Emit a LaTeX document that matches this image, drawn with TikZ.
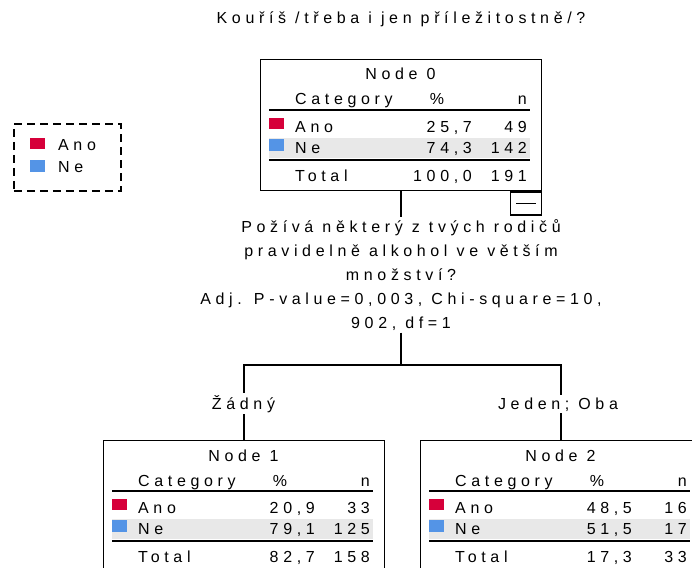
\documentclass[tikz,border=0pt]{standalone}
\usepackage{fontspec}
\newfontfamily\spss[LetterSpace=29]{Liberation Sans}
\definecolor{anored}{RGB}{214,0,58}
\definecolor{neblue}{RGB}{84,148,230}
\definecolor{bandgray}{RGB}{232,232,232}
\tikzset{
  treebox/.style={draw, line width=1.4pt, inner sep=0pt, anchor=north west, minimum width=281pt, minimum height=131pt},
  ltxt/.style={inner sep=0pt, anchor=base west},
  rtxt/.style={inner sep=0pt, anchor=base east},
  ctxt/.style={inner sep=0pt, anchor=base},
  rulel/.style={line width=1.3pt},
  conn/.style={line width=1.5pt},
  lbl/.style={fill=white, inner sep=2pt, anchor=base},
}
\newcommand\tablebody[7]{%
  \node[ctxt] (#1t) at (140.5,21) {Node #2};
  \node[ltxt] (#1c) at (35,46) {Category};
  \node[ctxt] (#1p) at (177,46) {\%};
  \node[rtxt] (#1n) at (267,46) {n};
  \draw[rulel] (9,51) -- (270,51);
  \fill[bandgray] (9,79) rectangle (270,99);
  \fill[anored] (9,59) rectangle (24,70);
  \fill[neblue] (9,80) rectangle (24,92);
  \node[ltxt] (#1a) at (35,73) {Ano};
  \node[rtxt] (#1ap) at (212,73) {#3};
  \node[rtxt] (#1an) at (267,73) {#4};
  \node[ltxt] (#1b) at (35,94) {Ne};
  \node[rtxt] (#1bp) at (212,94) {#5};
  \node[rtxt] (#1bn) at (267,94) {#6};
  \draw[rulel] (9,101) -- (270,101);
  \node[ltxt] (#1s) at (35,122) {Total};
  \node[rtxt] (#1sp) at (212,122) {#7};
}
\begin{document}
\begin{tikzpicture}[x=1pt, y=-1pt, font=\spss\fontsize{16}{18}\selectfont]
\useasboundingbox (0,0) rectangle (692,567);
\clip (0,0) rectangle (692,567);

% title
\node[ctxt] (title) at (401,24) {Kouříš /třeba i jen příležitostně/?};

% legend
\node[draw, line width=1.5pt, dash pattern=on 8pt off 5pt, anchor=north west,
      minimum width=107pt, minimum height=67pt, inner sep=0pt] (legend) at (13,123) {};
\fill[anored] (30,138) rectangle (45,149);
\fill[neblue] (30,160) rectangle (45,172);
\node[ltxt] (legano) at (58,150) {Ano};
\node[ltxt] (legne) at (58,172) {Ne};

% node 0
\node[treebox] (n0) at (260,59) {};
\begin{scope}[shift={(260,59)}]
  \tablebody{n0}{0}{25,7}{49}{74,3}{142}{100,0}
  \node[rtxt] (n0sn) at (267,122) {191};
\end{scope}
\node[draw, line width=1.4pt, inner sep=0pt, anchor=north east, minimum width=31pt, minimum height=23pt] (n0m) at (n0.south east) {};
\draw[line width=1.3pt] ([xshift=-10pt]n0m.center) -- ([xshift=10pt]n0m.center);

% split text
\node[align=center, inner sep=2pt, font=\spss\fontsize{16}{24}\selectfont] (split) at (401,275)
  {Požívá některý z tvých rodičů\\pravidelně alkohol ve větším\\množství?\\Adj. P-value=0,003, Chi-square=10,\\902, df=1};

% node 1
\node[treebox] (n1) at (103,440) {};
\begin{scope}[shift={(103,440)}]
  \tablebody{n1}{1}{20,9}{33}{79,1}{125}{82,7}
  \node[rtxt] (n1sn) at (267,122) {158};
\end{scope}

% node 2
\node[treebox] (n2) at (420,440) {};
\begin{scope}[shift={(420,440)}]
  \tablebody{n2}{2}{48,5}{16}{51,5}{17}{17,3}
  \node[rtxt] (n2sn) at (267,122) {33};
\end{scope}

% connectors
\coordinate (jct) at (401,365);
\draw[conn] (n0.south -| split) -- (split.north);
\draw[conn] (split.south) -- (jct);
\draw[conn] (n1.north) |- (jct) -| (n2.north);
\node[lbl] (l1) at (243.5,409) {Žádný};
\node[lbl] (l2) at (558,409) {Jeden; Oba};
\end{tikzpicture}
\end{document}
